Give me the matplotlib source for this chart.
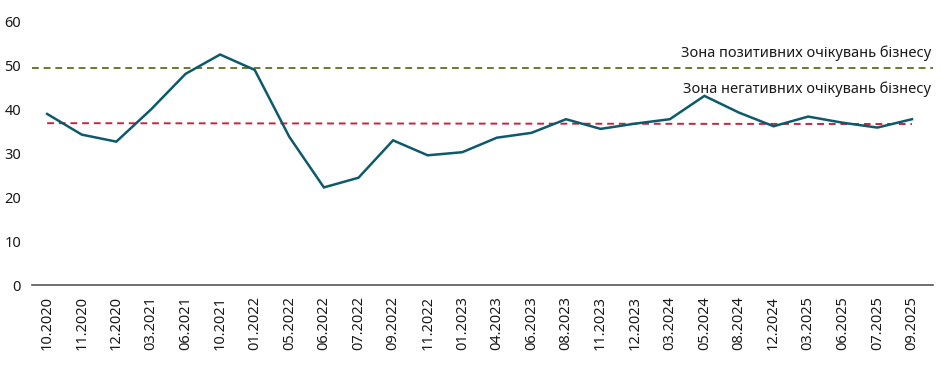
import matplotlib
matplotlib.use("Agg")
import matplotlib.pyplot as plt

# periods of the survey and the business expectations index
periods = ["10.2020", "11.2020", "12.2020", "03.2021", "06.2021", "10.2021",
           "01.2022", "05.2022", "06.2022", "07.2022", "09.2022", "11.2022",
           "01.2023", "04.2023", "06.2023", "08.2023", "11.2023", "12.2023",
           "03.2024", "05.2024", "08.2024", "12.2024", "03.2025", "06.2025",
           "07.2025", "09.2025"]
index_values = [38.9, 34.2, 32.6, 39.9, 48.0, 52.4, 48.9, 33.7, 22.2, 24.4,
                32.9, 29.5, 30.2, 33.5, 34.6, 37.7, 35.5, 36.7, 37.7, 43.0,
                39.2, 36.1, 38.3, 36.9, 35.8, 37.7]
positive_zone = 49.4
negative_zone = [36.8, 36.6]  # start and end of the threshold line
positive_label = "Зона позитивних очікувань бізнесу"
negative_label = "Зона негативних очікувань бізнесу"
y_ticks = [0, 10, 20, 30, 40, 50, 60]

plt.rcParams["font.family"] = ["Noto Sans", "DejaVu Sans"]

fig = plt.figure(figsize=(9.45, 3.66), dpi=100)
ax = fig.add_axes([0.034, 0.221, 0.953, 0.7214])

x = list(range(len(periods)))
xmin, xmax = -0.434, 25.6

ax.plot([xmin, xmax], [positive_zone, positive_zone], color="#6b7a2e",
        lw=1.4, ls=(0, (3.5, 2.5)))
ax.plot([x[0], x[-1]], negative_zone, color="#c8243c",
        lw=1.4, ls=(0, (3.5, 2.5)))
ax.plot(x, index_values, color="#0d5a6a", lw=1.8, solid_joinstyle="miter")

ax.text(xmax - 0.05, positive_zone + 1.6, positive_label, ha="right",
        va="bottom", fontsize=10.5, color="#1a1a1a")
ax.text(xmax - 0.05, positive_zone - 3.2, negative_label, ha="right",
        va="top", fontsize=10.5, color="#1a1a1a")

ax.set_xlim(xmin, xmax)
ax.set_ylim(0, 60)
ax.set_yticks(y_ticks)
ax.set_xticks(x)
ax.set_xticklabels(periods, rotation=90)
ax.tick_params(axis="both", length=0, labelsize=10.5, colors="#1a1a1a")
ax.tick_params(axis="y", pad=8)
ax.tick_params(axis="x", pad=8)

for side in ("top", "right", "left"):
    ax.spines[side].set_visible(False)
ax.spines["bottom"].set_color("#555555")
ax.spines["bottom"].set_linewidth(1.2)

fig.savefig("out.png", dpi=100)
